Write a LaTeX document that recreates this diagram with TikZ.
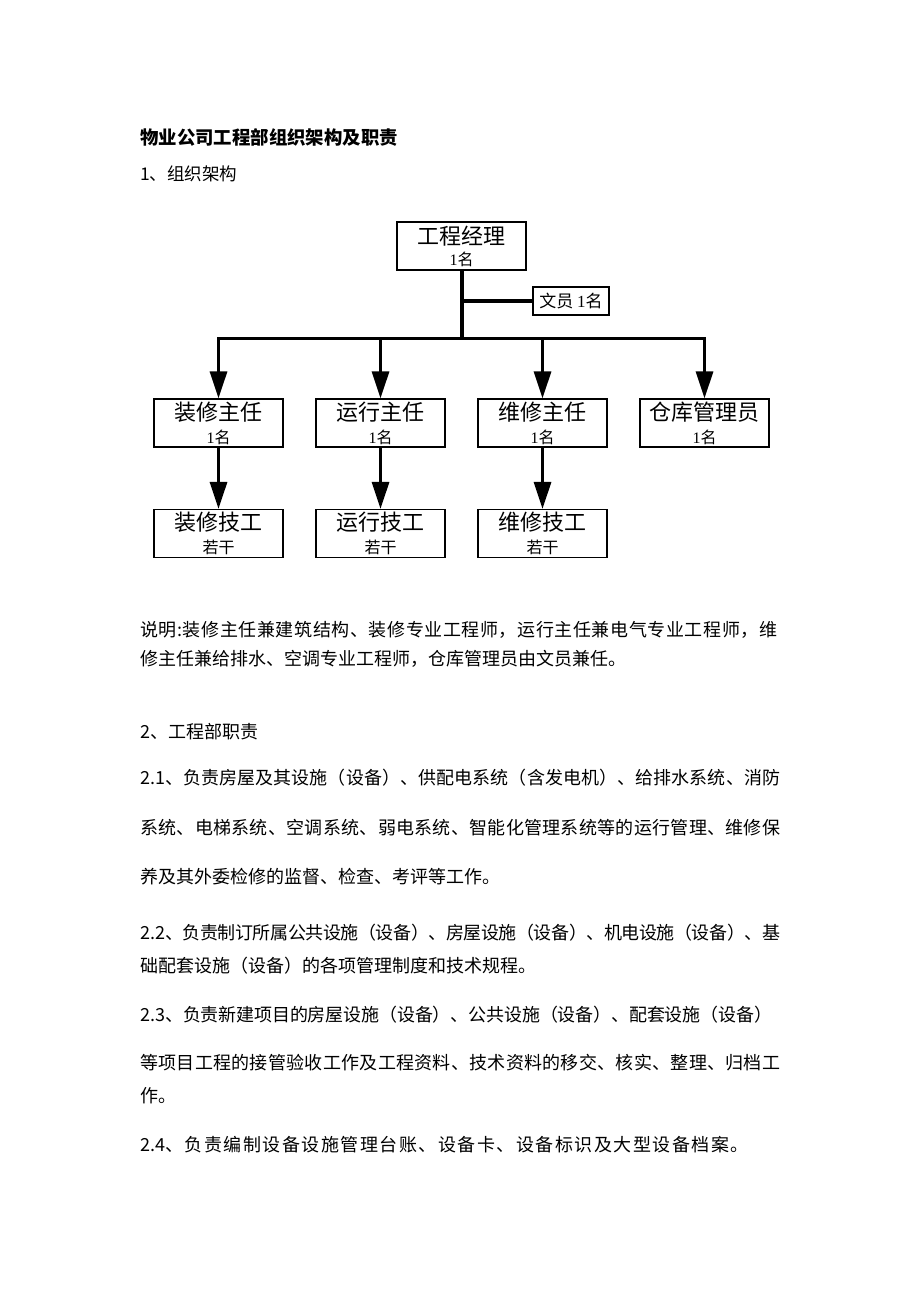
\documentclass[tikz,border=0pt]{standalone}
\usepackage{fontspec}
\setmainfont{Noto Sans CJK SC}
\newfontfamily\lser{Liberation Serif}
\usetikzlibrary{arrows.meta}
% inter-character glue for body lines, inserted token by token
\newcommand{\gapskip}{\hskip 1.5pt plus 2pt minus 2pt\relax}
\def\spc#1{#1\spcnext}
\def\spcnext#1{\ifx\relax#1\else\gapskip#1\expandafter\spcnext\fi}
\newcommand{\jl}[2]{\makebox[#1][s]{#2}}
\tikzset{
  orgbox/.style={draw, line width=1.1pt, minimum width=129pt, minimum height=48pt, inner sep=0pt},
  boxtitle/.style={inner sep=0pt, font=\fontsize{22}{24}\selectfont},
  boxcount/.style={inner sep=0pt, font=\fontsize{16}{18}\selectfont},
  txt/.style={anchor=west, inner sep=0pt},
  arr/.style={line width=3pt, -{Triangle[width=17pt,length=27pt]}},
}
\begin{document}
\begin{tikzpicture}[x=1pt, y=-1pt, font=\fontsize{18}{22}\selectfont]
\useasboundingbox[fill=white] (0,0) rectangle (920,1302);

\node[txt, font=\fontsize{18.4}{22}\selectfont\bfseries] (title) at (140,137) {物业公司工程部组织架构及职责};
\node[txt, font=\fontsize{17.5}{22}\selectfont] (h1) at (140,174) {1、组织架构};

% boxes
\node[orgbox] (m) at (461.5,246) {};
\node[boxtitle] (mt) at (461.5,236) {工程经理};
\node[boxcount] (mc) at (461.5,259) {{\lser 1}名};

\node[draw, line width=1.1pt, minimum width=76pt, minimum height=28pt, inner sep=0pt, font=\fontsize{17}{19}\selectfont] (clerk) at (571,301) {文员 {\lser 1}名};

\foreach \n/\x/\t in {a1/218.5/装修主任, a2/380.5/运行主任, a3/542.5/维修主任, a4/704.5/仓库管理员}{
  \node[orgbox] (\n) at (\x,423) {};
  \node[boxtitle] (\n t) at (\x,412) {\t};
  \node[boxcount] (\n c) at (\x,437) {{\lser 1}名};
}
\foreach \n/\x/\t in {b1/218.5/装修技工, b2/380.5/运行技工, b3/542.5/维修技工}{
  \node[orgbox] (\n) at (\x,533.5) {};
  \node[boxtitle] (\n t) at (\x,522) {\t};
  \node[boxcount] (\n c) at (\x,547) {若干};
}

% connectors
\coordinate (j) at (461.5,338);
\coordinate (jc) at (461.5,301);
\coordinate (bl) at (218.5,338);
\coordinate (br) at (704.5,338);
\draw[line width=4pt] (m.south) -- ([yshift=-1.5pt]j);
\draw[line width=4pt] (jc) -- (clerk.west);
\draw[line width=3pt, line cap=rect] (bl) -- (br);
\foreach \n in {a1,a2,a3,a4}{
  \draw[arr] (bl -| \n) -- (\n.north);
}
\foreach \a/\b in {a1/b1, a2/b2, a3/b3}{
  \draw[arr] (\a.south) -- (\b.north);
}

% body text
\node[txt] (s1) at (140,630) {\jl{637pt}{\spc 说明:装修主任兼建筑结构、装修专业工程师，运行主任兼电气专业工程师，维\relax}};
\node[txt] (s2) at (140,659) {修主任兼给排水、空调专业工程师，仓库管理员由文员兼任。};

\node[txt] (h2) at (140,732) {2、工程部职责};

\node[txt] (p1a) at (140,778) {\jl{640pt}{2.1\spc 、负责房屋及其设施（设备）、供配电系统（含发电机）、给排水系统、消防\relax}};
\node[txt] (p1b) at (140,828) {\jl{640pt}{\spc 系统、电梯系统、空调系统、弱电系统、智能化管理系统等的运行管理、维修保\relax}};
\node[txt] (p1c) at (140,877) {养及其外委检修的监督、检查、考评等工作。};

\node[txt] (p2a) at (140,933) {\jl{640pt}{2.2\spc 、负责制订所属公共设施（设备）、房屋设施（设备）、机电设施（设备）、基\relax}};
\node[txt] (p2b) at (140,966) {础配套设施（设备）的各项管理制度和技术规程。};

\node[txt] (p3a) at (140,1015) {\jl{632pt}{2.3\spc 、负责新建项目的房屋设施（设备）、公共设施（设备）、配套设施（设备）\relax}};
\node[txt] (p3b) at (140,1063) {\jl{640pt}{\spc 等项目工程的接管验收工作及工程资料、技术资料的移交、核实、整理、归档工\relax}};
\node[txt] (p3c) at (140,1096) {作。};

\node[txt] (p4) at (140,1145) {2.4\spc 、负责编制设备设施管理台账、设备卡、设备标识及大型设备档案。\relax};
\end{tikzpicture}
\end{document}
